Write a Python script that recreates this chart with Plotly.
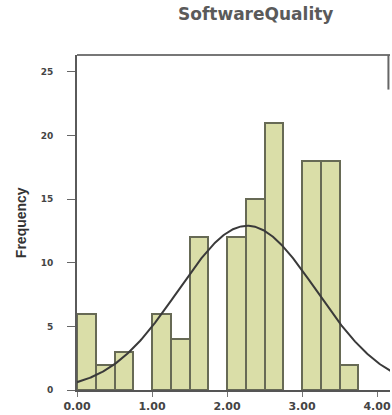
import numpy as np
import plotly.graph_objects as go

# Histogram of SoftwareQuality scores (bin width 0.25 starting at 0)
bin_start = 0.0
bin_width = 0.25
counts = [6, 2, 3, 0, 6, 4, 12, 0, 12, 15, 21, 0, 18, 18, 2, 0]

# Fitted normal curve parameters
fit_mean = 2.27
fit_sd = 0.92

x_ticks = [0, 1, 2, 3, 4]
x_tick_text = ["0.00", "1.00", "2.00", "3.00", "4.00"]
y_ticks = [0, 5, 10, 15, 20, 25]

title_text = "SoftwareQuality"
y_title = "Frequency"

centers = [bin_start + bin_width * (i + 0.5) for i in range(len(counts))]
bar_vals = [c if c > 0 else None for c in counts]

n_total = sum(counts)
xs = np.linspace(0, 4.2, 300)
ys = n_total * bin_width / (fit_sd * np.sqrt(2 * np.pi)) * np.exp(-0.5 * ((xs - fit_mean) / fit_sd) ** 2)

fig = go.Figure()
fig.add_trace(go.Bar(
    x=centers, y=bar_vals, width=bin_width,
    marker=dict(color="#dadea8", line=dict(color="#676a55", width=2)),
    hoverinfo="skip",
))
fig.add_trace(go.Scatter(
    x=xs, y=ys, mode="lines",
    line=dict(color="#3a3a3a", width=2),
    hoverinfo="skip",
))

fig.update_layout(
    width=392, height=415,
    margin=dict(l=77, r=2, t=55, b=25),
    paper_bgcolor="white", plot_bgcolor="white",
    showlegend=False,
    bargap=0,
    annotations=[
        dict(text=f"<b>{title_text}</b>", x=0.569, y=1, xref="paper", yref="paper",
             yshift=41, showarrow=False, xanchor="center", yanchor="middle",
             font=dict(family="DejaVu Sans", size=17, color="#5a5a5a")),
        dict(text=f"<b>{y_title}</b>", x=-0.18, y=0.5, xref="paper", yref="paper",
             textangle=-90, showarrow=False, xanchor="center", yanchor="middle",
             font=dict(family="Liberation Sans", size=14, color="#333333")),
    ],
)
fig.update_xaxes(
    range=[0, 313 / 75], tickvals=x_ticks, ticktext=x_tick_text,
    showgrid=False, zeroline=False,
    showline=True, linecolor="#555555", linewidth=2, mirror=False,
    ticks="outside", ticklen=5, tickcolor="#777777", tickwidth=1,
    tickfont=dict(family="DejaVu Sans", size=11, color="#444444", weight="bold"),
)
fig.update_yaxes(
    range=[0, 335 / 12.73], tickvals=y_ticks,
    showgrid=False, zeroline=False,
    showline=True, linecolor="#5a5a5a", linewidth=2,
    ticks="outside", ticklen=8, tickcolor="#666666", tickwidth=1,
    ticklabelstandoff=12,
    tickfont=dict(family="DejaVu Sans", size=9, color="#444444", weight="bold"),
)
# frame: top edge across the plot and the short visible piece on the right
fig.add_shape(type="line", xref="paper", yref="paper", x0=0, x1=1, y0=1, y1=1,
              line=dict(color="#777777", width=2))
fig.add_shape(type="line", xref="paper", yref="y", x0=0.995, x1=0.995, y0=335 / 12.73, y1=23.6,
              line=dict(color="#666666", width=2))

fig.write_html("out.html")
